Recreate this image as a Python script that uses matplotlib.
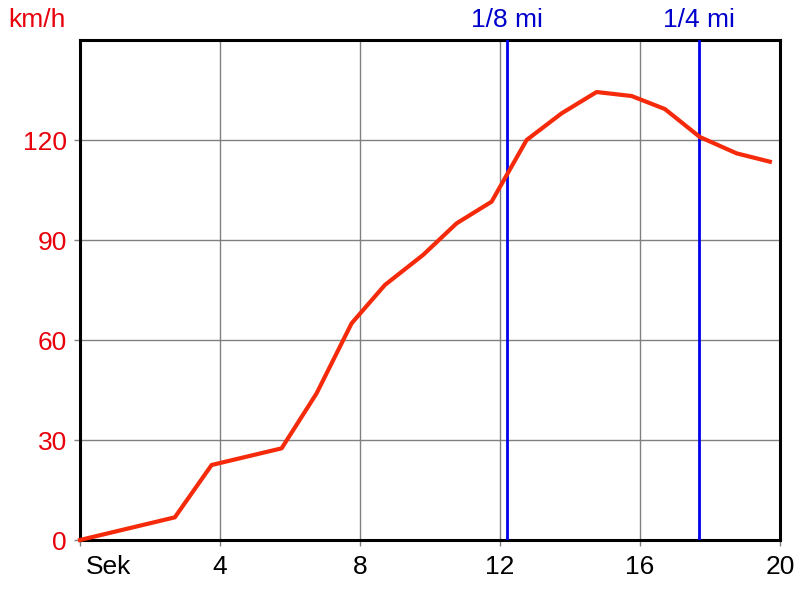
import matplotlib
matplotlib.use("Agg")
import matplotlib.pyplot as plt

# speed over time (seconds, km/h)
time_s = [0, 2.71, 3.76, 4.76, 5.76, 6.76, 7.76, 8.71, 9.8, 10.76, 11.76,
          12.76, 13.76, 14.76, 15.76, 16.71, 17.71, 18.76, 19.71]
speed_kmh = [0, 6.8, 22.5, 25.0, 27.5, 44.0, 65.0, 76.5, 85.5, 95.0, 101.5,
             120.0, 128.0, 134.4, 133.2, 129.3, 120.9, 116.0, 113.5]

marker_times = [12.19, 17.69]
marker_labels = ["1/8 mi", "1/4 mi"]

x_ticks = [0, 4, 8, 12, 16, 20]
x_tick_labels = ["", "4", "8", "12", "16", "20"]
y_ticks = [0, 30, 60, 90, 120]

plt.rcParams["font.family"] = ["Liberation Sans", "DejaVu Sans"]
FS = 19

fig = plt.figure(figsize=(8, 6), dpi=100)
ax = fig.add_axes([0.1, 0.1, 0.875, 0.8333])

ax.set_xlim(0, 20)
ax.set_ylim(0, 150)
ax.set_xticks(x_ticks, x_tick_labels)
ax.set_yticks(y_ticks)
ax.grid(True, color="#808080", linewidth=1.0)
ax.set_axisbelow(True)

ax.tick_params(axis="both", length=4.5, width=1, color="#808080", labelsize=FS)
ax.tick_params(axis="y", labelcolor="#e8000b", pad=5)
ax.tick_params(axis="x", labelcolor="black", pad=6)

for spine in ax.spines.values():
    spine.set_linewidth(2.2)
    spine.set_color("black")

for t, label in zip(marker_times, marker_labels):
    ax.axvline(t, color="#0000ee", linewidth=2, zorder=3)
    ax.text(t, 1.026, label, transform=ax.get_xaxis_transform(), ha="center",
            va="baseline", color="#0000cc", fontsize=FS, clip_on=False)

ax.plot(time_s, speed_kmh, color="#f52a0a", linewidth=3, zorder=4,
        solid_joinstyle="round", clip_on=False)

fig.text(0.01, 0.955, "km/h", color="#e8000b", fontsize=FS, ha="left", va="baseline")
fig.text(0.1075, 0.0433, "Sek", fontsize=FS, ha="left", va="baseline", color="black")

fig.savefig("out.png", dpi=100)
